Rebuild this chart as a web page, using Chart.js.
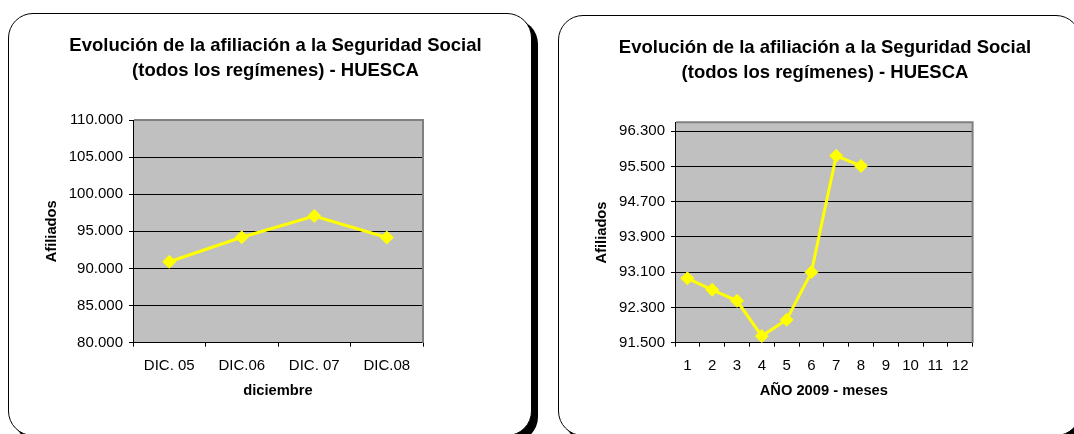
<!DOCTYPE html>
<html>
<head>
<meta charset="utf-8">
<script src="https://cdn.jsdelivr.net/npm/chart.js@4.4.1/dist/chart.umd.min.js"></script>
<style>
html,body{margin:0;padding:0;background:#fff;width:1074px;height:434px;overflow:hidden;position:relative}
.box{position:absolute;box-sizing:border-box;border:1px solid #000;border-radius:25px;box-shadow:6px 6px 0 #000;background:#fff}
#b1{left:8px;top:13px;width:524px;height:423px}
#b2{left:558px;top:15px;width:523px;height:421px}
canvas{position:absolute;top:0}
#c1{left:14px}
#c2{left:576px}
</style>
</head>
<body>
<div class="box" id="b1"></div>
<div class="box" id="b2"></div>
<canvas id="c1" width="523" height="434" style="width:523px;height:434px"></canvas>
<canvas id="c2" width="498" height="434" style="width:498px;height:434px"></canvas>
<script>
// ---- data ----
const titleLines = ['Evolución de la afiliación a la Seguridad Social', '(todos los regímenes) - HUESCA'];
const yTitle = 'Afiliados';

const catsLeft = ['DIC. 05', 'DIC.06', 'DIC. 07', 'DIC.08'];
const valuesLeft = [90900, 94200, 97070, 94170];
const yTicksLeft = [80000, 85000, 90000, 95000, 100000, 105000, 110000];
const xTitleLeft = 'diciembre';

const catsRight = ['1', '2', '3', '4', '5', '6', '7', '8', '9', '10', '11', '12'];
const valuesRight = [92960, 92700, 92450, 91650, 92020, 93100, 95740, 95510];
const yTicksRight = [91500, 92300, 93100, 93900, 94700, 95500, 96300];
const xTitleRight = 'AÑO 2009 - meses';

// ---- helpers ----
const F = '"Liberation Sans", Arial, Helvetica, sans-serif';
Chart.defaults.font.family = F;
const fmt = v => String(Math.round(v)).replace(/\B(?=(\d{3})+(?!\d))/g, '.');

const framePlugin = {
  id: 'frame',
  beforeDraw(chart) {
    const {ctx, chartArea: a} = chart;
    ctx.save();
    ctx.fillStyle = '#C0C0C0';
    ctx.fillRect(a.left, a.top, a.right - a.left, a.bottom - a.top);
    ctx.restore();
  },
  beforeDatasetsDraw(chart) {
    const {ctx, chartArea: a} = chart;
    ctx.save();
    ctx.strokeStyle = '#808080';
    ctx.lineWidth = 2;
    ctx.beginPath();
    ctx.moveTo(a.left + 1, a.top);
    ctx.lineTo(a.right, a.top);
    ctx.lineTo(a.right, a.bottom);
    ctx.stroke();
    ctx.restore();
  }
};

function makeChart(id, cats, vals, ticks, yMin, yMax, xTitle, L) {
  return new Chart(document.getElementById(id), {
    type: 'line',
    data: {
      labels: cats,
      datasets: [{
        data: vals,
        yAxisID: 'y',
        borderColor: '#FFFF00',
        backgroundColor: '#FFFF00',
        borderWidth: 3,
        pointStyle: 'rectRot',
        pointRadius: 6.5,
        pointHoverRadius: 6.5,
        pointBackgroundColor: '#FFFF00',
        pointBorderColor: '#FFFF00',
        pointBorderWidth: 1,
        tension: 0,
        fill: false,
        clip: false
      }]
    },
    options: {
      responsive: false,
      animation: false,
      devicePixelRatio: 1,
      layout: {padding: 0},
      events: [],
      plugins: {
        legend: {display: false},
        tooltip: {enabled: false},
        title: {
          display: true,
          text: titleLines,
          color: '#000',
          font: {family: F, size: 18.5, weight: 'bold', lineHeight: 25 / 18.5},
          padding: {top: L.tTop, bottom: L.tBot}
        }
      },
      scales: {
        x: {
          type: 'category',
          offset: true,
          grid: {display: true, offset: true, drawOnChartArea: false, drawTicks: true, tickLength: 4, tickColor: '#000', tickWidth: 1},
          border: {display: true, color: '#000', width: 1},
          ticks: {color: '#000', font: {family: F, size: 15}, padding: 10, maxRotation: 0, autoSkip: false},
          title: {display: true, text: xTitle, color: '#000', font: {family: F, size: 14.7, weight: 'bold'}, padding: {top: 0, bottom: 34.3}},
          afterFit: s => { s.height = 91.3; }
        },
        y: {
          type: 'linear',
          position: 'left',
          min: yMin,
          max: yMax,
          afterBuildTicks: s => { s.ticks = ticks.map(v => ({value: v})); },
          grid: {
            color: c => (c.tick && c.tick.value === yMax) ? 'rgba(0,0,0,0)' : '#000',
            lineWidth: 1, drawTicks: true, tickLength: 4, tickColor: '#000', tickWidth: 1
          },
          border: {display: true, color: '#000', width: 1},
          ticks: {color: '#000', font: {family: F, size: 15}, padding: 6, autoSkip: false, callback: v => fmt(v)},
          title: {display: true, text: yTitle, color: '#000', font: {family: F, size: 14.7, weight: 'bold'}, padding: {top: L.yTitlePad, bottom: 0}},
          afterFit: s => { s.width = L.yW; }
        },
        yR: {
          type: 'linear',
          position: 'right',
          display: true,
          grid: {display: false},
          ticks: {display: false},
          border: {display: false},
          afterFit: s => { s.width = L.rW; }
        }
      }
    },
    plugins: [framePlugin]
  });
}

makeChart('c1', catsLeft, valuesLeft, yTicksLeft, 80000, 110000, xTitleLeft,
  {tTop: 33.4, tBot: 36.6, yW: 119, rW: 114, yTitlePad: 28.9});
makeChart('c2', catsRight, valuesRight, yTicksRight, 91500, 96500, xTitleRight,
  {tTop: 35.4, tBot: 36.9, yW: 99, rW: 101.4, yTitlePad: 17.2});
</script>
</body>
</html>
